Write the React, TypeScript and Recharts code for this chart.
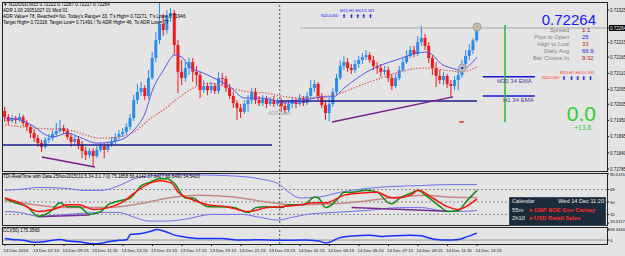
import { Bar, ComposedChart, Line, ReferenceDot, ReferenceLine, XAxis, YAxis } from "recharts";

// NZDUSD M15 candles, 13 Dec 05:15 -> 14 Dec 13:15 (one entry per bar)
const opens = [
  0.71982, 0.71962, 0.71948, 0.71958, 0.71952, 0.71962, 0.71941, 0.71928, 0.71907, 0.7189,
  0.71873, 0.7186, 0.71884, 0.7189, 0.71904, 0.71914, 0.71924, 0.71914, 0.71894, 0.71877,
  0.71887, 0.71867, 0.71846, 0.71833, 0.71846, 0.71829, 0.7185, 0.71863, 0.7185, 0.71867,
  0.7188, 0.71894, 0.71904, 0.71911, 0.71928, 0.71958, 0.72019, 0.72047, 0.7206, 0.72033,
  0.72094, 0.72162, 0.72223, 0.72278, 0.72257, 0.72305, 0.72315, 0.72206, 0.72115, 0.72094,
  0.72128, 0.72148, 0.72115, 0.72104, 0.72053, 0.72067, 0.72053, 0.72067, 0.7205, 0.72094,
  0.72091, 0.7206, 0.72033, 0.72009, 0.71992, 0.71979, 0.72006, 0.72019, 0.72047, 0.72019,
  0.72009, 0.72023, 0.72006, 0.72019, 0.72006, 0.72016, 0.71999, 0.71985, 0.72006, 0.72019,
  0.72006, 0.72026, 0.72009, 0.72033, 0.7206, 0.72074, 0.72033, 0.72002, 0.71975, 0.72006,
  0.72047, 0.72094, 0.72135, 0.72148, 0.72128, 0.72121, 0.72142, 0.72155, 0.72165, 0.72172,
  0.72155, 0.72135, 0.72128, 0.72115, 0.72121, 0.72094, 0.72067, 0.72094, 0.72121, 0.72148,
  0.72169, 0.72189, 0.72176, 0.72216, 0.7223, 0.72203, 0.72162, 0.72128, 0.72101, 0.72087,
  0.72101, 0.72074, 0.72067, 0.72087, 0.72104, 0.72142, 0.72169, 0.72189, 0.72222,
];
const highs = [
  0.71996, 0.71972, 0.71969, 0.71965, 0.71975, 0.71969, 0.71952, 0.71938, 0.71921, 0.71901,
  0.71884, 0.71894, 0.71904, 0.71918, 0.71941, 0.71952, 0.71935, 0.71924, 0.71907, 0.71897,
  0.71897, 0.7188, 0.7186, 0.71856, 0.71856, 0.71863, 0.71873, 0.71873, 0.71877, 0.71894,
  0.71907, 0.71918, 0.71924, 0.71941, 0.71972, 0.72036, 0.72074, 0.72081, 0.7207, 0.72121,
  0.72182, 0.7225, 0.72349, 0.72312, 0.72325, 0.72332, 0.72325, 0.72223, 0.72155, 0.72148,
  0.72162, 0.72162, 0.72135, 0.72115, 0.72087, 0.72077, 0.72081, 0.72077, 0.72115, 0.72111,
  0.72101, 0.72074, 0.72047, 0.72019, 0.72006, 0.72019, 0.72036, 0.7206, 0.7206, 0.72033,
  0.72036, 0.72033, 0.7203, 0.72033, 0.72026, 0.72026, 0.72013, 0.72019, 0.7203, 0.72026,
  0.7204, 0.72033, 0.72047, 0.72087, 0.72087, 0.72081, 0.72043, 0.72019, 0.72026, 0.7206,
  0.72108, 0.72155, 0.72169, 0.72162, 0.72142, 0.72155, 0.72169, 0.72179, 0.72189, 0.72182,
  0.72169, 0.72148, 0.72142, 0.72135, 0.72132, 0.72108, 0.72108, 0.72135, 0.72162, 0.72189,
  0.72203, 0.72203, 0.72237, 0.72271, 0.72244, 0.72216, 0.72172, 0.72148, 0.72121, 0.72115,
  0.72108, 0.72087, 0.72101, 0.72121, 0.72155, 0.72189, 0.7221, 0.7223, 0.72267,
];
const lows = [
  0.71945, 0.71935, 0.71941, 0.71938, 0.71945, 0.71931, 0.71914, 0.7189, 0.71877, 0.7186,
  0.71843, 0.71853, 0.71873, 0.7188, 0.71894, 0.71907, 0.71904, 0.71884, 0.7186, 0.71867,
  0.71853, 0.71822, 0.71816, 0.71822, 0.71792, 0.71822, 0.71843, 0.71822, 0.71843, 0.7186,
  0.7187, 0.71884, 0.71894, 0.71901, 0.71918, 0.71948, 0.72006, 0.72033, 0.72019, 0.72023,
  0.72087, 0.72148, 0.7221, 0.72237, 0.72244, 0.72284, 0.72172, 0.72043, 0.7207, 0.72081,
  0.72104, 0.72081, 0.7207, 0.72026, 0.72043, 0.72036, 0.72043, 0.7204, 0.7204, 0.7207,
  0.72047, 0.72023, 0.71992, 0.71952, 0.71958, 0.71972, 0.71979, 0.72006, 0.72006, 0.71999,
  0.71999, 0.71992, 0.71999, 0.71996, 0.71999, 0.71979, 0.71972, 0.71979, 0.71992, 0.71992,
  0.71999, 0.71999, 0.72002, 0.72026, 0.72047, 0.72019, 0.71992, 0.71952, 0.71946, 0.71996,
  0.72036, 0.72087, 0.72121, 0.72115, 0.72108, 0.72111, 0.72128, 0.72142, 0.72155, 0.72145,
  0.72121, 0.72108, 0.72098, 0.72104, 0.72081, 0.72053, 0.7206, 0.72087, 0.72115, 0.72142,
  0.72162, 0.72165, 0.72169, 0.72203, 0.72189, 0.72145, 0.72104, 0.72064, 0.72074, 0.7207,
  0.7206, 0.7203, 0.72053, 0.72053, 0.72094, 0.72128, 0.72155, 0.72176, 0.72217,
];
const closes = [
  0.71962, 0.71948, 0.71958, 0.71952, 0.71962, 0.71941, 0.71928, 0.71907, 0.7189, 0.71873,
  0.7186, 0.71884, 0.7189, 0.71904, 0.71914, 0.71924, 0.71914, 0.71894, 0.71877, 0.71887,
  0.71867, 0.71846, 0.71833, 0.71846, 0.71829, 0.7185, 0.71863, 0.7185, 0.71867, 0.7188,
  0.71894, 0.71904, 0.71911, 0.71928, 0.71958, 0.72019, 0.72047, 0.7206, 0.72033, 0.72094,
  0.72162, 0.72223, 0.72278, 0.72257, 0.72305, 0.72315, 0.72206, 0.72115, 0.72094, 0.72128,
  0.72148, 0.72115, 0.72104, 0.72053, 0.72067, 0.72053, 0.72067, 0.7205, 0.72094, 0.72091,
  0.7206, 0.72033, 0.72009, 0.71992, 0.71979, 0.72006, 0.72019, 0.72047, 0.72019, 0.72009,
  0.72023, 0.72006, 0.72019, 0.72006, 0.72016, 0.71999, 0.71985, 0.72006, 0.72019, 0.72006,
  0.72026, 0.72009, 0.72033, 0.7206, 0.72074, 0.72033, 0.72002, 0.71975, 0.72006, 0.72047,
  0.72094, 0.72135, 0.72148, 0.72128, 0.72121, 0.72142, 0.72155, 0.72165, 0.72172, 0.72155,
  0.72135, 0.72128, 0.72115, 0.72121, 0.72094, 0.72067, 0.72094, 0.72121, 0.72148, 0.72169,
  0.72189, 0.72176, 0.72216, 0.7223, 0.72203, 0.72162, 0.72128, 0.72101, 0.72087, 0.72101,
  0.72074, 0.72067, 0.72087, 0.72104, 0.72142, 0.72169, 0.72189, 0.72222, 0.72264,
];

// moving averages on price, read at sample bars [bar, value]
const fastMa: [number, number][] = [
  [0, 0.71958], [4, 0.71952], [8, 0.71928], [11, 0.71901], [13, 0.71894], [17, 0.71907], [20, 0.71894],
  [25, 0.71873], [29, 0.71877], [33, 0.71894], [35, 0.71918], [38, 0.71975], [40, 0.72053], [43, 0.72121],
  [46, 0.72172], [48, 0.72165], [50, 0.72132], [53, 0.72115], [56, 0.72098], [61, 0.72064], [65, 0.72026],
  [69, 0.72026], [73, 0.72019], [76, 0.72009], [80, 0.72016], [84, 0.72026], [86, 0.7203], [89, 0.7203],
  [92, 0.7206], [96, 0.72098], [99, 0.72121], [102, 0.72138], [106, 0.72155], [112, 0.72179], [114, 0.72182],
  [116, 0.72172], [118, 0.72145], [121, 0.72128], [124, 0.72121], [126, 0.72138], [128, 0.72165],
];
const slowMa: [number, number][] = [
  [0, 0.71935], [8, 0.71924], [17, 0.71918], [26, 0.7189], [31, 0.71894], [35, 0.71911], [39, 0.71952],
  [44, 0.71996], [48, 0.72036], [51, 0.7206], [55, 0.72077], [60, 0.72064], [66, 0.72047], [71, 0.72043],
  [76, 0.7203], [82, 0.72026], [85, 0.7203], [89, 0.72036], [98, 0.72077], [103, 0.72098], [107, 0.72115],
  [114, 0.72128], [119, 0.72121], [124, 0.72115], [128, 0.72132],
];

// TDI window
const tdiUpper: [number, number][] = [
  [0, 66.8], [4, 68.2], [9, 71], [17, 69.6], [21, 66.8], [26, 66.8], [31, 73.8], [35, 83.6], [39, 87.7],
  [46, 89.5], [53, 89.1], [62, 87.7], [69, 83.6], [74, 76.6], [77, 64.1], [80, 55.7], [85, 57.1], [91, 64.1],
  [98, 69.6], [105, 72.4], [113, 73.8], [120, 75.2], [128, 75.19],
];
const tdiLower: [number, number][] = [
  [0, 36.2], [4, 34.8], [9, 29.3], [17, 32], [26, 34.8], [31, 34.8], [35, 27.9], [39, 22.3], [44, 22.3],
  [49, 25.1], [56, 32], [64, 32], [69, 27.9], [74, 23.7], [78, 27.9], [82, 32], [89, 34.8], [98, 37.6],
  [107, 41.8], [113, 41.8], [118, 37.6], [123, 36.2], [128, 37.64],
];
const tdiBase: [number, number][] = [
  [0, 52.9], [8, 46], [17, 41.8], [26, 41.8], [35, 46], [39, 50.1], [46, 57.1], [53, 59.9], [62, 57.1],
  [71, 50.1], [78, 46], [89, 47.4], [98, 51.5], [107, 57.1], [114, 59.9], [120, 57.1], [128, 56.41],
];
const tdiGreen: [number, number][] = [
  [0, 55.7], [2, 50.1], [6, 43.2], [9, 29.3], [12, 34.8], [15, 48.7], [17, 43.2], [20, 43.2], [23, 32],
  [26, 36.2], [28, 46], [32, 52.9], [34, 55.7], [37, 73.8], [39, 78], [42, 83.6], [44, 83.6], [46, 76.6],
  [49, 55.7], [51, 55.7], [53, 48.7], [55, 43.2], [58, 43.2], [62, 41.8], [66, 34.8], [68, 41.8], [71, 43.2],
  [75, 41.8], [77, 46], [81, 46], [84, 57.1], [85, 55.7], [87, 41.8], [90, 52.9], [92, 64.1], [94, 64.1],
  [98, 66.8], [101, 64.1], [104, 48.7], [105, 47.4], [107, 55.7], [110, 62.7], [112, 66.8], [114, 59.9],
  [118, 43.2], [120, 36.2], [123, 37.6], [125, 50.1], [128, 66.85],
];
const tdiRed: [number, number][] = [
  [0, 55.7], [4, 48.7], [9, 36.2], [13, 39], [17, 46], [20, 46], [24, 39], [28, 41.8], [32, 50.1], [35, 62.7],
  [39, 76.6], [42, 80.8], [45, 78], [47, 64.1], [51, 52.9], [55, 46], [60, 43.2], [66, 36.2], [71, 41.8],
  [75, 43.2], [80, 46], [84, 48.7], [87, 48.7], [92, 59.9], [96, 62.7], [101, 64.1], [104, 57.1], [106, 55.7],
  [110, 59.9], [112, 66.8], [116, 55.7], [120, 43.2], [123, 39], [125, 43.2], [128, 54.54],
];

// CCI(50)
const cci: [number, number][] = [
  [0, 37], [2, 15], [5, -7], [8, -58], [11, -36], [15, 15], [17, -22], [20, -44], [24, -95], [26, -80],
  [28, -44], [31, -7], [33, 7], [34, 139], [37, 168], [40, 234], [41, 265], [44, 197], [46, 124], [48, 88],
  [53, 37], [59, 37], [63, 0], [69, 7], [74, -7], [81, 0], [85, -22], [87, -73], [91, 66], [94, 102],
  [99, 124], [102, 90], [104, 100], [110, 124], [113, 110], [115, 51], [117, 15], [120, 0], [123, 15],
  [125, 73], [128, 175.356],
];

const priceTicks = [0.72325, 0.72264, 0.72215, 0.72165, 0.7211, 0.72055, 0.72005, 0.7195, 0.71895, 0.7184, 0.71785];
const lastPrice = 0.72264;
const tdiTicks = [19.5117, 32, 50, 68, 90.5115];
const tdiLevels = [32, 50, 68];
const cciTicks = [0, 268.4346];
const timeTicks = [0, 8, 16, 24, 32, 40, 48, 56, 64, 72, 80, 88, 96, 104, 112, 120, 128];
const timeLabels = [
  "13 Dec 2016", "13 Dec 07:15", "13 Dec 09:15", "13 Dec 11:15", "13 Dec 13:15", "13 Dec 15:15",
  "13 Dec 17:15", "13 Dec 19:15", "13 Dec 21:15", "13 Dec 23:15", "14 Dec 01:15", "14 Dec 03:15",
  "14 Dec 05:15", "14 Dec 07:15", "14 Dec 09:15", "14 Dec 11:15", "14 Dec 13:15",
];

const headerLines = [
  "▼ NZDUSD,M15  0.72222 0.72267 0.72217 0.72264",
  "ADR 1.00 20051027 01 Mod 01",
  "ADR Value= 78, Reached= No. Today's Range= 33, T's High= 0.72271, T's Low= 0.71946",
  "Target High= 0.72318, Target Low= 0.71491 / To ADR High= 46, To ADR Low= 77",
];
const infoRows: [string, string, string][] = [
  ["Spread", "1.1", "#a01818"],
  ["Pips to Open", "25", "#1a1aff"],
  ["High to Low", "33", "#b03030"],
  ["Daily Avg", "66.9", "#1a1aff"],
  ["Bar Closes In", "9:32", "#b03030"],
];
const frameLabel = "M15 H1 H4 D1 W1";
const arrowOffsets = [3.9, 11.4, 17.6, 23.8, 30.4];
const calendarRows: [string, string][] = [
  ["55m", "GBP BOE Gov Carney"],
  ["2h10", "USD Retail Sales"],
  ["2h10", "USD Core Retail Sales"],
];

const X_DOMAIN: [number, number] = [-0.81, 163.25];
const PRICE_DOMAIN: [number, number] = [0.717783, 0.723522];
const BULL = "#2a8cf2";
const BEAR = "#f01a1a";
const BG = "#e4e4e4";
const SEP_BAR = 74.5;

const candles = opens.map((o, i) => ({ i, open: o, high: highs[i], low: lows[i], close: closes[i] }));
const pts = (a: [number, number][]) => a.map(([i, v]) => ({ i, v }));

function Candle(props: any) {
  const { x, y, width, height, payload } = props;
  if (!payload || x == null) return null;
  const top = Math.min(y, y + height);
  const h = Math.abs(height);
  const k = h / (payload.high - payload.low || 1e-9);
  const yo = top + (payload.high - payload.open) * k;
  const yc = top + (payload.high - payload.close) * k;
  const color = payload.close >= payload.open ? BULL : BEAR;
  const cx = x + width / 2;
  return (
    <g>
      <line x1={cx} x2={cx} y1={top} y2={top + h} stroke={color} strokeWidth={1} />
      <rect x={x} y={Math.min(yo, yc)} width={width} height={Math.max(1, Math.abs(yo - yc))} fill={color} />
    </g>
  );
}

function PriceTick(p: any) {
  const v = p.payload.value;
  if (v === lastPrice) {
    return (
      <g>
        <rect x={p.x - 1} y={p.y - 3} width={17} height={6} fill="#000" />
        <text x={p.x} y={p.y + 1.7} fontSize={4.5} fill="#fff">{v.toFixed(5)}</text>
      </g>
    );
  }
  return <text x={p.x} y={p.y + 1.7} fontSize={4.5} fill="#111">{v.toFixed(5)}</text>;
}

function NumTick(p: any) {
  const v = p.payload.value;
  const s = Number.isInteger(v) ? String(v) : v.toFixed(4);
  const lift = v === 19.5117 ? -1.5 : 0;
  const shift = s.length > 7 ? -2.5 : 0;
  return <text x={p.x + shift} y={p.y + 1.6 + lift} fontSize={4.2} fill="#111">{s}</text>;
}

function TimeTick(p: any) {
  const idx = timeTicks.indexOf(p.payload.value);
  return <text x={p.x - 1.5} y={p.y + 3.5} fontSize={4.4} fill="#111">{timeLabels[idx]}</text>;
}

function Txt({ x, y, size, color = "#000", right, bold, family, w = 625, children }: any) {
  const style: any = {
    position: "absolute",
    top: y - size / 2,
    fontSize: size,
    lineHeight: `${size}px`,
    color,
    whiteSpace: "nowrap",
    fontWeight: bold ? 700 : 400,
  };
  if (family) style.fontFamily = family;
  if (right) style.right = w - x;
  else style.left = x;
  return <div style={style}>{children}</div>;
}

function Frame({ top, height }: { top: number; height: number }) {
  return (
    <div
      style={{
        position: "absolute", left: 2, top, width: 606, height, boxSizing: "border-box",
        border: "1px solid #222", pointerEvents: "none",
      }}
    />
  );
}

function Mtf({ x, y, labelColor, nameX }: { x: number; y: number; labelColor: string; nameX: number }) {
  return (
    <>
      <Txt x={nameX} y={y + 5} size={4.2} color={labelColor}>NZDUSD</Txt>
      <Txt x={x} y={y} size={4.1} color={labelColor}>{frameLabel}</Txt>
      {arrowOffsets.map((o) => (
        <Txt key={o} x={x + o - 2.2} y={y + 5} size={5.2} color="#1010d0" family="'DejaVu Sans'">⬆</Txt>
      ))}
    </>
  );
}

const sepLine = <ReferenceLine x={SEP_BAR} stroke="#555" strokeDasharray="2 2" />;

export default function App() {
  return (
    <div
      style={{
        position: "absolute", left: 0, top: 0, width: 625, height: 256, background: BG, overflow: "hidden",
        fontFamily: "'Liberation Sans', Arial, sans-serif",
      }}
    >
      {/* main price window */}
      <div style={{ position: "absolute", left: 0, top: 0 }}>
        <ComposedChart width={625} height={171} data={candles} margin={{ top: 2, right: 0, bottom: 0, left: 2 }}>
          <XAxis type="number" dataKey="i" domain={X_DOMAIN} hide allowDataOverflow />
          <YAxis
            orientation="right" width={18} domain={PRICE_DOMAIN} ticks={priceTicks} interval={0}
            tick={(p: any) => <PriceTick {...p} />} tickSize={2} tickMargin={1} axisLine={false}
            tickLine={{ stroke: "#111" }} allowDataOverflow
          />
          {sepLine}
          <ReferenceLine segment={[{ x: 80, y: lastPrice }, { x: 163.25, y: lastPrice }]} stroke="#a8a8a8" />
          <ReferenceLine segment={[{ x: -0.8, y: 0.71867 }, { x: 72.4, y: 0.71867 }]} stroke="#1c1c8c" strokeWidth={1.5} />
          <ReferenceLine segment={[{ x: 74, y: 0.72016 }, { x: 128, y: 0.72016 }]} stroke="#1c1c8c" strokeWidth={1.5} />
          <ReferenceLine segment={[{ x: 129.6, y: 0.72098 }, { x: 143.7, y: 0.72098 }]} stroke="#1414d0" strokeWidth={1.5} />
          <ReferenceLine segment={[{ x: 129.6, y: 0.72033 }, { x: 143.7, y: 0.72033 }]} stroke="#1414d0" strokeWidth={1.5} />
          <ReferenceLine segment={[{ x: 135.6, y: 0.72274 }, { x: 135.6, y: 0.71945 }]} stroke="#2cb52c" strokeWidth={1.5} />
          <Line data={pts(slowMa)} dataKey="v" type="monotone" stroke="#e25a5a" strokeWidth={1.2} strokeDasharray="1.5 1.5" dot={false} isAnimationActive={false} />
          <Line data={pts(fastMa)} dataKey="v" type="monotone" stroke="#5656f0" strokeWidth={1} dot={false} isAnimationActive={false} />
          <Bar dataKey={(d: any) => [d.low, d.high]} barSize={3} shape={(p: any) => <Candle {...p} />} isAnimationActive={false} />
          <ReferenceLine segment={[{ x: 10, y: 0.71826 }, { x: 24.4, y: 0.71792 }]} stroke="#74208c" strokeWidth={1.5} />
          <ReferenceLine segment={[{ x: 88.7, y: 0.71945 }, { x: 121.5, y: 0.7203 }]} stroke="#74208c" strokeWidth={1.5} />
          <ReferenceLine segment={[{ x: 123.2, y: 0.71945 }, { x: 124.4, y: 0.71945 }]} stroke="#e02020" strokeWidth={1.5} />
          <ReferenceDot x={124} y={0.72128} r={4} fill="#bdbdbd" stroke="#a0a0a0" />
          <ReferenceDot x={124} y={0.72128} r={1.2} fill="#2030e0" stroke="none" />
          <ReferenceDot x={128} y={0.72267} r={4} fill="#bdbdbd" stroke="#a0a0a0" />
          <ReferenceDot x={128} y={0.72267} r={1.2} fill="#f0a020" stroke="none" />
        </ComposedChart>
      </div>

      {/* TDI window */}
      <div style={{ position: "absolute", left: 0, top: 172 }}>
        <ComposedChart width={625} height={52} margin={{ top: 2, right: 0, bottom: 1, left: 2 }}>
          <XAxis type="number" dataKey="i" domain={X_DOMAIN} hide allowDataOverflow />
          <YAxis
            orientation="right" width={18} domain={[19.5117, 90.5115]} ticks={tdiTicks} interval={0}
            tick={(p: any) => <NumTick {...p} />} tickSize={2} tickMargin={1} axisLine={false}
            tickLine={{ stroke: "#111" }} allowDataOverflow
          />
          {tdiLevels.map((l) => (
            <ReferenceLine key={l} y={l} stroke="#8a8a8a" strokeDasharray="2 2" />
          ))}
          {sepLine}
          <Line data={pts(tdiUpper)} dataKey="v" type="monotone" stroke="#6f6ff0" strokeWidth={1} dot={false} isAnimationActive={false} />
          <Line data={pts(tdiLower)} dataKey="v" type="monotone" stroke="#6f6ff0" strokeWidth={1} dot={false} isAnimationActive={false} />
          <Line data={pts(tdiBase)} dataKey="v" type="monotone" stroke="#c48a8a" strokeWidth={1.5} dot={false} isAnimationActive={false} />
          <ReferenceLine segment={[{ x: 9, y: 28.5 }, { x: 23, y: 31 }]} stroke="#7a2a90" strokeWidth={1.5} />
          <ReferenceLine segment={[{ x: 94, y: 41.8 }, { x: 120, y: 36.5 }]} stroke="#7a2a90" strokeWidth={1.5} />
          <Line data={pts(tdiGreen)} dataKey="v" type="monotone" stroke="#138a13" strokeWidth={1.5} dot={false} isAnimationActive={false} />
          <Line data={pts(tdiRed)} dataKey="v" type="monotone" stroke="#ff1010" strokeWidth={1.5} dot={false} isAnimationActive={false} />
        </ComposedChart>
      </div>

      {/* CCI window + time axis */}
      <div style={{ position: "absolute", left: 0, top: 226 }}>
        <ComposedChart width={625} height={30} margin={{ top: 1, right: 0, bottom: 0, left: 2 }}>
          <XAxis
            type="number" dataKey="i" domain={X_DOMAIN} allowDataOverflow ticks={timeTicks} interval={0}
            tick={(p: any) => <TimeTick {...p} />} tickSize={2} tickLine={{ stroke: "#111" }} axisLine={false} height={12}
          />
          <YAxis
            orientation="right" width={18} domain={[-100, 330]} ticks={cciTicks} interval={0}
            tick={(p: any) => <NumTick {...p} />} tickSize={2} tickMargin={1} axisLine={false}
            tickLine={{ stroke: "#111" }} allowDataOverflow
          />
          <ReferenceLine y={0} stroke="#9a9a9a" />
          {sepLine}
          <Line data={pts(cci)} dataKey="v" type="monotone" stroke="#1432ff" strokeWidth={1.5} dot={false} isAnimationActive={false} />
        </ComposedChart>
      </div>

      <Frame top={2} height={170} />
      <Frame top={173} height={53} />
      <Frame top={227} height={18} />

      {/* header text */}
      {headerLines.map((s, k) => (
        <Txt key={s} x={3} y={5.5 + k * 6} size={4.6}>{s}</Txt>
      ))}
      <Txt x={3} y={177} size={4.6}>TDI-RealTime with Data 25Nov2015(10.5.34.3.1.7.0) 75.1858 56.4142 37.6427 66.8490 54.5420</Txt>
      <Txt x={3} y={231} size={4.6}>CCI(50) 175.3560</Txt>
      <Txt x={268} y={113} size={5} color="#8fb0b0">ADR Start</Txt>

      {/* multi-timeframe arrows */}
      <Mtf x={340} y={11.5} labelColor="#2020ff" nameX={321} />
      <Mtf x={560} y={73.5} labelColor="#ff3030" nameX={542} />

      {/* info block on the right */}
      <Txt x={596} y={19} size={15} color="#1a1aff" right>0.72264</Txt>
      {infoRows.map(([label, value, color], k) => (
        <div key={label}>
          <Txt x={569} y={29.8 + k * 7.1} size={6} color="#858585" right>{label}</Txt>
          <Txt x={582} y={29.8 + k * 7.1} size={6} color={color}>{value}</Txt>
        </div>
      ))}
      <Txt x={497} y={81} size={6} color="#4b3a9a">M30 34 EMA</Txt>
      <Txt x={503} y={100} size={6} color="#4b3a9a">H1 34 EMA</Txt>
      <Txt x={596} y={113.5} size={21} color="#33cc33" right>0.0</Txt>
      <Txt x={591} y={128.5} size={6.5} color="#33cc33" right>+13.8</Txt>

      {/* calendar panel */}
      <div
        style={{
          position: "absolute", left: 509, top: 197, width: 97, height: 29, background: "#1c2b3a",
          overflow: "hidden", border: "1px solid #3a4a5a", boxSizing: "border-box",
        }}
      >
        <Txt x={2} y={4} size={5.6} color="#e8e8e8">Calendar</Txt>
        <Txt x={94} y={4} size={5.6} color="#e8e8e8" right w={95}>Wed 14 Dec 11:20</Txt>
        {calendarRows.map(([t, ev], k) => (
          <div key={ev}>
            <Txt x={2} y={12.5 + k * 8.5} size={5.8} color="#e8e8e8">{t}</Txt>
            <Txt x={19} y={12.5 + k * 8.5} size={5.8} color="#ff2a2a" bold>{"● " + ev}</Txt>
          </div>
        ))}
      </div>
    </div>
  );
}
